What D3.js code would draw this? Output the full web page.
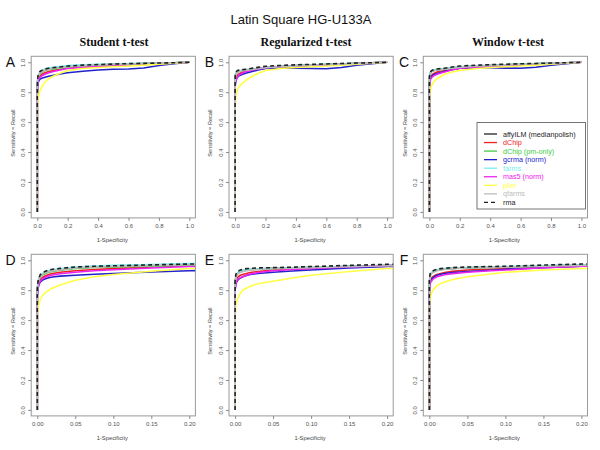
<!DOCTYPE html>
<html><head><meta charset="utf-8">
<script src="https://cdn.jsdelivr.net/npm/d3@7"></script>
<style>body{margin:0;background:#fff}svg{display:block}</style>
</head><body>
<svg id="c" width="600" height="450"></svg>
<script>
// ---------- data ----------
const title = "Latin Square HG-U133A";
const tests = ["Student t-test", "Regularized t-test", "Window t-test"];
const panelLetters = ["A","B","C","D","E","F"];
const methods = ["affyILM (medianpolish)","dChip","dChip (pm-only)","gcrma (norm)","farms","mas5 (norm)","plier","qfarms","rma"];
const methodColors = ["#222222","#ee2222","#44cc44","#2222cc","#77eeee","#ee22ee","#ffff44","#bbbbbb","#222222"];
const methodDashed = [false,false,false,false,false,false,false,false,true];
const fpr = [0,0,0.001,0.002,0.004,0.007,0.01,0.015,0.02,0.03,0.05,0.075,0.1,0.15,0.2,0.3,0.4,0.5,0.6,0.7,0.8,0.9,1.0];
const xTicksFull = [0,0.2,0.4,0.6,0.8,1.0];
const xTicksZoom = [0,0.05,0.10,0.15,0.20];
const yTicks = [0,0.2,0.4,0.6,0.8,1.0];

const tprStudent = [
 [0,.80,.85,.87,.895,.908,.915,.925,.93,.937,.948,.955,.958,.964,.97,.977,.982,.986,.989,.992,.995,.997,1],
 [0,.78,.83,.85,.87,.885,.895,.905,.912,.92,.93,.938,.944,.955,.963,.97,.975,.979,.983,.987,.991,.995,1],
 [0,.79,.84,.865,.89,.902,.91,.92,.926,.934,.945,.952,.955,.96,.966,.974,.98,.984,.988,.991,.994,.997,1],
 [0,.76,.81,.835,.855,.868,.875,.883,.888,.894,.9,.907,.912,.922,.93,.94,.948,.953,.955,.962,.978,.99,1],
 [0,.80,.855,.875,.9,.912,.92,.93,.936,.943,.955,.962,.966,.972,.978,.983,.986,.989,.991,.993,.995,.997,1],
 [0,.77,.82,.84,.862,.876,.885,.895,.902,.91,.92,.93,.937,.948,.958,.966,.971,.975,.979,.984,.99,.995,1],
 [0,.60,.68,.70,.74,.765,.78,.80,.815,.835,.867,.89,.905,.927,.945,.958,.965,.97,.975,.981,.988,.994,1],
 [0,.79,.845,.87,.893,.906,.915,.923,.929,.936,.948,.954,.958,.964,.97,.977,.982,.986,.989,.992,.995,.997,1],
 [0,.81,.86,.88,.905,.917,.925,.935,.94,.946,.955,.96,.963,.969,.975,.981,.985,.988,.991,.993,.995,.997,1]
];
const tprRegularized = [
 [0,.84,.89,.905,.918,.925,.93,.935,.938,.942,.946,.949,.952,.959,.965,.972,.978,.982,.985,.989,.993,.996,1],
 [0,.82,.86,.875,.89,.9,.905,.912,.918,.925,.935,.94,.945,.953,.96,.966,.971,.975,.979,.984,.99,.995,1],
 [0,.84,.885,.9,.914,.922,.928,.933,.937,.941,.945,.948,.951,.958,.964,.971,.977,.981,.985,.989,.993,.996,1],
 [0,.80,.84,.855,.87,.882,.89,.898,.905,.912,.92,.928,.935,.948,.958,.96,.96,.958,.957,.965,.98,.99,1],
 [0,.84,.89,.905,.918,.926,.931,.936,.939,.943,.947,.95,.953,.96,.966,.973,.979,.983,.986,.99,.993,.996,1],
 [0,.80,.845,.86,.875,.884,.89,.9,.908,.918,.93,.938,.945,.956,.964,.97,.975,.979,.983,.987,.991,.995,1],
 [0,.62,.70,.72,.75,.78,.80,.815,.827,.843,.86,.882,.9,.925,.945,.958,.965,.97,.975,.981,.988,.994,1],
 [0,.83,.88,.897,.91,.918,.924,.93,.934,.938,.943,.947,.95,.957,.963,.97,.976,.98,.984,.988,.992,.996,1],
 [0,.86,.905,.918,.928,.935,.94,.944,.946,.949,.951,.954,.958,.966,.973,.979,.983,.986,.989,.992,.995,.997,1]
];
const tprWindow = [
 [0,.85,.9,.91,.92,.928,.935,.939,.942,.946,.95,.953,.955,.962,.968,.975,.979,.983,.987,.99,.993,.996,1],
 [0,.82,.86,.875,.888,.898,.905,.912,.918,.926,.935,.94,.945,.953,.96,.967,.972,.976,.98,.985,.99,.995,1],
 [0,.85,.895,.908,.918,.926,.933,.937,.941,.945,.949,.952,.954,.961,.967,.974,.978,.982,.986,.99,.993,.996,1],
 [0,.82,.855,.865,.88,.892,.9,.907,.912,.918,.925,.932,.94,.95,.96,.963,.963,.961,.96,.967,.98,.99,1],
 [0,.85,.9,.912,.922,.93,.937,.941,.944,.948,.952,.955,.958,.964,.97,.976,.98,.984,.988,.991,.994,.996,1],
 [0,.80,.845,.855,.87,.882,.89,.897,.903,.911,.92,.928,.935,.95,.96,.967,.972,.977,.981,.986,.99,.995,1],
 [0,.70,.75,.77,.795,.815,.83,.845,.855,.87,.89,.905,.92,.935,.945,.957,.965,.97,.975,.981,.988,.994,1],
 [0,.84,.89,.905,.916,.924,.931,.936,.94,.944,.948,.951,.954,.96,.966,.973,.978,.982,.986,.99,.993,.996,1],
 [0,.87,.91,.918,.928,.935,.94,.944,.947,.951,.955,.958,.96,.968,.975,.98,.984,.987,.99,.992,.995,.997,1]
];
const tprByTest = [tprStudent, tprRegularized, tprWindow];

// ---------- layout ----------
const svg = d3.select("#c");
const colLeft = [31.2, 229, 423.3];
const boxW = 164.2;
const rowTop = [56.3, 254.3];
const boxH = 161.6;
const titleX = [114, 306, 508];

svg.append("text").attr("x",301).attr("y",24).attr("text-anchor","middle")
  .attr("font-family","Liberation Sans, Arial, sans-serif").attr("font-size",13).attr("fill","#111").text(title);
tests.forEach((t,i)=>{
  svg.append("text").attr("x",titleX[i]).attr("y",46).attr("text-anchor","middle")
    .attr("font-family","Liberation Serif, Times New Roman, serif").attr("font-weight","bold")
    .attr("font-size",12).attr("fill","#111").text(t);
});

const font = "Liberation Sans, Arial, sans-serif";
const lineGen = (x,y)=>d3.line().x(d=>x(d[0])).y(d=>y(d[1]));

for (let r=0;r<2;r++){
  for (let c=0;c<3;c++){
    const L = colLeft[c], T = rowTop[r];
    const xmax = r===0 ? 1 : 0.2;
    const x = d3.scaleLinear().domain([-0.04*xmax, 1.04*xmax]).range([L, L+boxW]);
    const y = d3.scaleLinear().domain([-0.04, 1.04]).range([T+boxH, T]);
    const g = svg.append("g");
    const clipId = "clip"+r+c;
    g.append("clipPath").attr("id",clipId).append("rect")
      .attr("x",L).attr("y",T).attr("width",boxW).attr("height",boxH);
    const curves = g.append("g").attr("clip-path","url(#"+clipId+")");
    const tprs = tprByTest[c];
    methods.forEach((m,k)=>{
      const pts = fpr.map((f,j)=>[f,tprs[k][j]]);
      curves.append("path").attr("d", lineGen(x,y)(pts))
        .attr("fill","none").attr("stroke",methodColors[k])
        .attr("stroke-width", 1.6)
        .attr("stroke-dasharray", methodDashed[k] ? "4,3" : null);
    });
    // box
    g.append("rect").attr("x",L).attr("y",T).attr("width",boxW).attr("height",boxH)
      .attr("fill","none").attr("stroke","#999").attr("stroke-width",1);
    // x axis
    const xa = d3.axisBottom(x).tickValues(r===0?xTicksFull:xTicksZoom)
      .tickFormat(d3.format(r===0?".1f":".2f")).tickSize(3).tickSizeOuter(0).tickPadding(3);
    const gx = g.append("g").attr("transform",`translate(0,${T+boxH})`).call(xa);
    gx.select(".domain").remove();
    gx.selectAll("line").attr("stroke","#888");
    gx.selectAll("text").attr("font-family",font).attr("font-size",6).attr("fill","#555");
    // y axis
    const ya = d3.axisLeft(y).tickValues(yTicks).tickFormat(d3.format(".1f")).tickSize(3).tickSizeOuter(0);
    const gy = g.append("g").attr("transform",`translate(${L},0)`).call(ya);
    gy.select(".domain").remove();
    gy.selectAll("line").attr("stroke","#888");
    gy.selectAll("text").attr("font-family",font).attr("font-size",6).attr("fill","#555")
      .attr("transform","rotate(-90)").attr("x",0).attr("y",-8.5).attr("dy","0.35em")
      .attr("text-anchor","middle");
    // labels
    g.append("text").attr("x",L+boxW/2-1).attr("y",T+boxH+24).attr("text-anchor","middle")
      .attr("font-family",font).attr("font-size",5.8).attr("fill","#444").text("1-Specificity");
    g.append("text").attr("transform",`translate(${L-18.5},${T+boxH/2-4}) rotate(-90)`)
      .attr("dy","0.35em").attr("text-anchor","middle")
      .attr("font-family",font).attr("font-size",5.6).attr("fill","#444").text("Sensitivity = Recall");
    g.append("text").attr("x",[10.5,209.5,404][c]).attr("y",r===0?67:265).attr("text-anchor","middle")
      .attr("font-family",font).attr("font-size",14).attr("fill","#111").text(panelLetters[r*3+c]);

    if (r===0 && c===2){
      const lg = g.append("g");
      lg.append("rect").attr("x",477).attr("y",122.5).attr("width",108.5).attr("height",86.5)
        .attr("fill","#fff").attr("stroke","#666").attr("stroke-width",0.9);
      methods.forEach((m,k)=>{
        const yy = 134 + k*8.55;
        lg.append("line").attr("x1",484).attr("x2",497).attr("y1",yy).attr("y2",yy)
          .attr("stroke",methodColors[k]).attr("stroke-width",1.3)
          .attr("stroke-dasharray", methodDashed[k] ? "4,3" : null);
        lg.append("text").attr("x",503).attr("y",yy).attr("dy","0.35em")
          .attr("font-family",font).attr("font-size",7.2)
          .attr("fill", k===8 ? "#222" : methodColors[k]).text(m);
      });
    }
  }
}
</script>
</body></html>
